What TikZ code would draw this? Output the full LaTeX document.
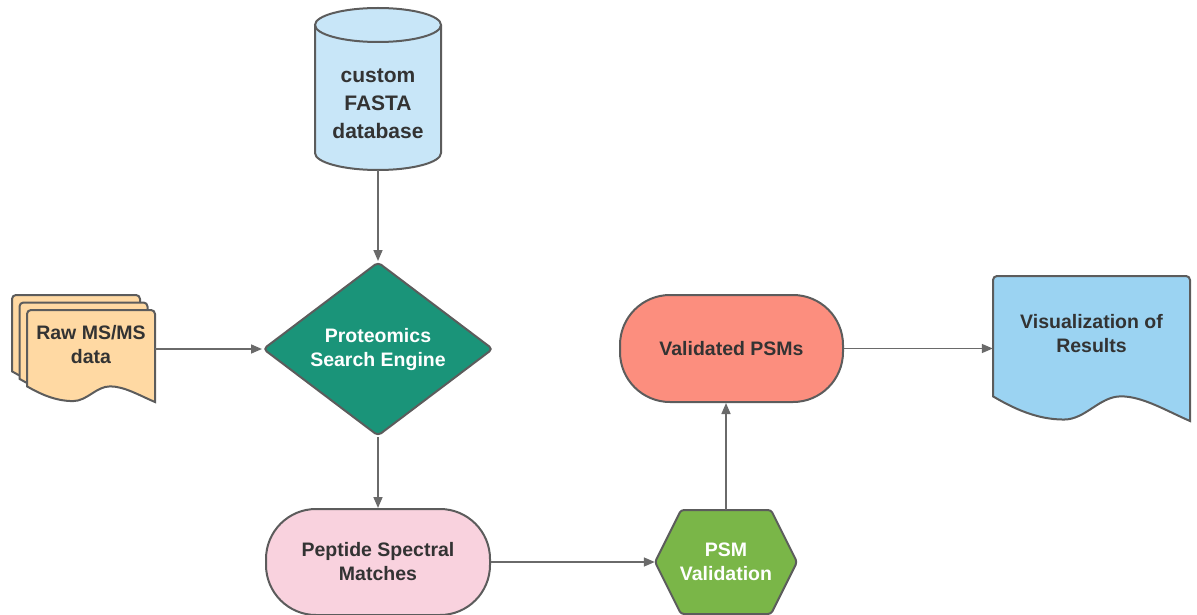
\documentclass[tikz,border=0pt]{standalone}
\usepackage{fontspec}
\setmainfont{Liberation Sans}
\usetikzlibrary{shapes.geometric,arrows.meta}

\definecolor{ink}{HTML}{333333}
\definecolor{edge}{HTML}{5C5C5C}
\definecolor{wire}{HTML}{6A6A6A}
\definecolor{dbblue}{HTML}{C8E6F8}
\definecolor{engine}{HTML}{1A9479}
\definecolor{peach}{HTML}{FFD9A3}
\definecolor{blush}{HTML}{F9D2DE}
\definecolor{leaf}{HTML}{7AB648}
\definecolor{salmon}{HTML}{FC8E7E}
\definecolor{sky}{HTML}{9BD3F2}

% document shape with a wavy lower edge: style, x, y (top-left), width, height
\newcommand\wavydoc[5]{%
  \draw[#1] ({#2},{#3+0.83*#5}) [rounded corners=4pt] -- (#2,#3) -- ({#2+#4},#3)
    [sharp corners] -- ({#2+#4},{#3+#5})
    .. controls ({#2+0.88*#4},{#3+0.93*#5}) and ({#2+0.76*#4},{#3+0.83*#5}) .. ({#2+0.65*#4},{#3+0.83*#5})
    .. controls ({#2+0.54*#4},{#3+0.83*#5}) and ({#2+0.47*#4},{#3+0.99*#5}) .. ({#2+0.36*#4},{#3+0.99*#5})
    .. controls ({#2+0.22*#4},{#3+0.99*#5}) and ({#2+0.10*#4},{#3+0.91*#5}) .. ({#2},{#3+0.83*#5})
    -- cycle;}

\begin{document}
\begin{tikzpicture}[x=1pt,y=-1pt,
  outline/.style={draw=edge,line width=2pt},
  txt/.style={font=\bfseries\fontsize{19.5}{24}\selectfont,text=ink,align=center,inner sep=0pt},
  whitetxt/.style={txt,text=white},
  link/.style={draw=wire,line width=1.6pt,-{Triangle[length=11pt,width=9pt]}},
  terminal/.style={outline,rounded corners=50pt,minimum height=106pt},
]
\useasboundingbox (0,0) rectangle (1197,615);

% database cylinder
\fill[dbblue] (315,25) -- (315,153) arc[start angle=180,end angle=0,x radius=63,y radius=17]
  -- (441,25) arc[start angle=0,end angle=-180,x radius=63,y radius=17] -- cycle;
\draw[outline] (315,25) -- (315,153) arc[start angle=180,end angle=0,x radius=63,y radius=17] -- (441,25);
\draw[outline] (378,25) ellipse [x radius=63,y radius=17];
\node[txt,font=\bfseries\fontsize{21}{28}\selectfont,minimum width=126pt,minimum height=132pt]
  (db) at (378,104) {custom\\FASTA\\database};

% stacked raw data documents
\wavydoc{outline,fill=peach}{12}{295}{128}{92}
\wavydoc{outline,fill=peach}{19.5}{302.5}{128}{92}
\wavydoc{outline,fill=peach}{27}{310}{128}{92}
\node[txt,minimum width=128pt] (raw) at (91,345) {Raw MS/MS\\data};

% search engine decision
\node[diamond,outline,fill=engine,aspect=1.32,minimum width=230pt,minimum height=174pt,
  rounded corners=4pt,whitetxt] (pse) at (378,349) {Proteomics\\Search Engine};

% peptide spectral matches
\node[terminal,fill=blush,minimum width=224pt,txt] (psm) at (378,562) {Peptide Spectral\\Matches};

% validation hexagon
\draw[outline,fill=leaf,rounded corners=3pt] (655,562) -- (681,510) -- (771,510) -- (797,562)
  -- (771,614) -- (681,614) -- cycle;
\node[whitetxt,minimum width=142pt,minimum height=104pt] (psmv) at (726,562) {PSM\\Validation};

% validated PSMs
\node[terminal,fill=salmon,minimum width=223pt,minimum height=107pt,txt] (val) at (731.5,348.5) {Validated PSMs};

% results document
\wavydoc{outline,fill=sky}{993}{276}{197}{145}
\node[txt,minimum width=197pt] (viz) at (1091.5,334) {Visualization of\\Results};

% connectors
\draw[link] (db.south) -- (pse.north);
\draw[link] (raw.east |- pse.west) -- (pse.west);
\draw[link] (pse.south) -- (psm.north);
\draw[link] (psm.east) -- (psmv.west);
\draw[link] (psmv.north) -- (psmv.north |- val.south);
\draw[link] (val.east) -- (val.east -| viz.west);
\end{tikzpicture}
\end{document}
